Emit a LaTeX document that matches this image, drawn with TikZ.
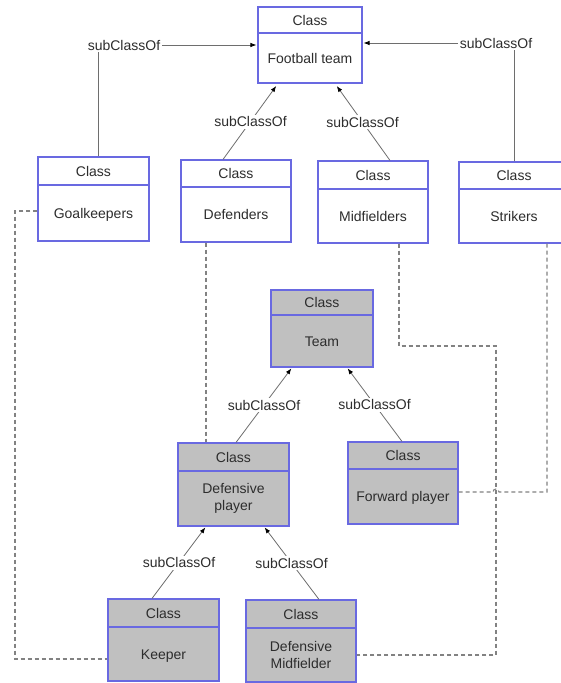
\documentclass[tikz,border=0pt]{standalone}
\usepackage{fontspec}
\setmainfont{Liberation Sans}
\usetikzlibrary{arrows.meta,calc}
\definecolor{cblue}{RGB}{105,105,225}
\definecolor{cgray}{RGB}{192,192,192}
\definecolor{lgray}{RGB}{110,110,110}
\definecolor{dgray}{RGB}{130,130,130}
\definecolor{tgray}{RGB}{45,45,45}
\tikzset{
 cbox/.style={draw=cblue, line width=1.1pt, rectangle, inner sep=0pt},
 cdiv/.style={draw=cblue, line width=1.1pt},
 ctext/.style={font=\fontsize{14}{17}\selectfont, text=tgray, inner sep=0pt, text height=10pt, text depth=0pt},
 cmulti/.style={font=\fontsize{14}{17}\selectfont, text=tgray, inner sep=0pt, align=center},
 lbl/.style={font=\fontsize{14}{17}\selectfont, text=tgray, fill=white, inner sep=2pt, text height=10pt, text depth=0pt},
 conn/.style={draw=lgray, line width=0.8pt},
 arr/.style={conn, -{Latex[length=6pt,width=4.5pt,color=black]}, shorten >=1pt},
 dashline/.style={draw=dgray, line width=1.1pt, dash pattern=on 4pt off 3pt},
}
% #1 name, #2 fill, #3 left, #4 top, #5 right, #6 divider, #7 bottom, #8 body style, #9 body text
\newcommand\umlclass[9]{%
  \node[cbox, fill=#2, minimum width={#5-#3}, minimum height={#7-#4}] (#1) at ({(#3+#5)/2},{(#4+#7)/2}) {};
  \draw[cdiv] (#1.west |- 0,#6) -- (#1.east |- 0,#6);
  \node[ctext] (#1-h) at ({(#3+#5)/2},{(#4+#6)/2}) {Class};
  \node[#8] (#1-b) at ({(#3+#5)/2},{(#6+#7)/2}) {#9};
}
\begin{document}
\begin{tikzpicture}[x=1pt,y=-1pt]
\useasboundingbox[fill=white] (0,0) rectangle (560,683);
\umlclass{ft}{white}{258}{7}{362}{33}{83}{ctext}{Football team}
\umlclass{gk}{white}{38}{157}{149}{185}{241}{ctext}{Goalkeepers}
\umlclass{df}{white}{181}{160}{291}{187}{242}{ctext}{Defenders}
\umlclass{mf}{white}{318}{161}{428}{189}{243}{ctext}{Midfielders}
\umlclass{st}{white}{459}{162}{569}{189}{243}{ctext}{Strikers}
\umlclass{tm}{cgray}{271}{290}{373}{315}{367}{ctext}{Team}
\umlclass{dp}{cgray}{178}{443}{289}{471}{526}{cmulti}{Defensive\\player}
\umlclass{fw}{cgray}{348}{442}{458}{469}{524}{ctext}{Forward player}
\umlclass{kp}{cgray}{108}{599}{219}{627}{681}{ctext}{Keeper}
\umlclass{dm}{cgray}{246}{600}{356}{628}{682}{cmulti}{Defensive\\Midfielder}

% top horizontal subClassOf links
\node[lbl] (l1) at (124,45) {subClassOf};
\node[lbl] (l2) at (496,43) {subClassOf};
\draw[conn] (gk.north -| 98,0) -- (l1.south -| 98,0);
\draw[arr] (l1.east) -- (l1.east -| ft.west);
\draw[conn] (st.north) -- (st.north |- l2.south);
\draw[arr] (l2.west) -- (l2.west -| ft.east);

% diagonal subClassOf links
\draw[arr,shorten >=3pt] (df.north -| 223,0) -- node[lbl] (l3) {subClassOf} (ft.south -| 278,0);
\draw[arr,shorten >=3pt] (mf.north -| 390,0) -- node[lbl] (l4) {subClassOf} (ft.south -| 335,0);
\draw[arr] (dp.north -| 236,0) -- node[lbl] (l5) {subClassOf} (tm.south -| 292,0);
\draw[arr] (fw.north -| 402,0) -- node[lbl] (l6) {subClassOf} (tm.south -| 347,0);
\draw[arr] (kp.north -| 152,0) -- node[lbl] (l7) {subClassOf} (dp.south -| 206,0);
\draw[arr] (dm.north -| 319,0) -- node[lbl] (l8) {subClassOf} (dp.south -| 264,0);

% dashed correspondences
\draw[dashline] (gk.west |- 0,211) -- (15,211) -- (15,659) -- (kp.west |- 0,659);
\draw[dashline] (df.south -| 206,0) -- (dp.north -| 206,0);
\draw[dashline] (mf.south -| 399,0) -- (399,346) -- (496,346) -- (496,655) -- (dm.east |- 0,655);
\draw[dashline] (st.south -| 547,0) -- (547,492) -- (499,492) arc[start angle=0,end angle=-180,radius=3] -- (fw.east |- 0,492);
\end{tikzpicture}
\end{document}
